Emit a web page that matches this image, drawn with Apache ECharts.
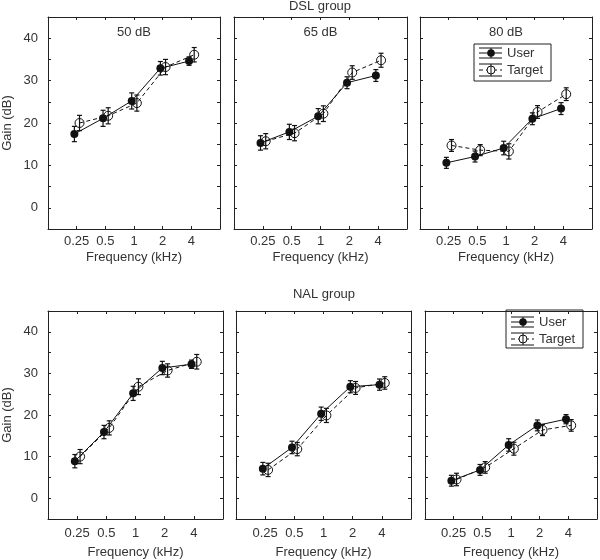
<!DOCTYPE html>
<html>
<head>
<meta charset="utf-8">
<script src="https://cdn.jsdelivr.net/npm/echarts@6/dist/echarts.min.js"></script>
<style>html,body{margin:0;padding:0;background:#fff;}#c{width:600px;height:560px;}</style>
</head>
<body>
<div id="c"></div>
<script>
// ---- data ----
const freqLabels = ['0.25', '0.5', '1', '2', '4'];
const groupTitles = ['DSL group', 'NAL group'];
const levelLabels = ['50 dB', '65 dB', '80 dB'];
const seriesNames = ['User', 'Target'];
const yTicks = [0, 10, 20, 30, 40];

// DSL group
const dsl50User   = [17.4, 21.1, 25.2, 32.9, 34.6];
const dsl50UserErr = [1.8, 1.9, 1.9, 1.6, 1.0];
const dsl50Target = [20.0, 21.7, 24.7, 33.2, 36.1];
const dsl50TargetErr = [1.8, 1.9, 1.9, 1.8, 1.7];

const dsl65User   = [15.3, 17.9, 21.6, 29.5, 31.2];
const dsl65UserErr = [1.7, 1.8, 1.8, 1.4, 1.4];
const dsl65Target = [15.7, 17.6, 22.2, 31.9, 34.8];
const dsl65TargetErr = [1.8, 1.8, 1.85, 1.6, 1.65];

const dsl80User   = [10.6, 12.1, 14.1, 21.0, 23.4];
const dsl80UserErr = [1.3, 1.3, 1.6, 1.4, 1.4];
const dsl80Target = [14.7, 13.6, 13.3, 22.6, 26.8];
const dsl80TargetErr = [1.4, 1.3, 1.8, 1.5, 1.5];

// NAL group
const nal50User   = [8.9, 15.9, 25.2, 31.3, 32.2];
const nal50UserErr = [1.6, 1.6, 1.7, 1.6, 1.0];
const nal50Target = [10.0, 16.9, 26.8, 30.7, 32.8];
const nal50TargetErr = [1.7, 1.7, 1.9, 1.6, 1.75];

const nal65User   = [7.1, 12.2, 20.3, 26.8, 27.3];
const nal65UserErr = [1.5, 1.5, 1.6, 1.45, 1.35];
const nal65Target = [6.8, 11.8, 19.9, 26.5, 27.7];
const nal65TargetErr = [1.6, 1.6, 1.7, 1.55, 1.5];

const nal80User   = [4.2, 6.8, 12.8, 17.5, 19.0];
const nal80UserErr = [1.3, 1.3, 1.5, 1.3, 1.1];
const nal80Target = [4.5, 7.4, 11.9, 16.4, 17.5];
const nal80TargetErr = [1.5, 1.4, 1.55, 1.35, 1.4];

// ---- layout ----
const panels = [
  {user: dsl50User, uErr: dsl50UserErr, target: dsl50Target, tErr: dsl50TargetErr, label: levelLabels[0], grid: {left: 48, top: 17, width: 172, height: 212}, yName: true},
  {user: dsl65User, uErr: dsl65UserErr, target: dsl65Target, tErr: dsl65TargetErr, label: levelLabels[1], grid: {left: 234, top: 17, width: 173, height: 212}},
  {user: dsl80User, uErr: dsl80UserErr, target: dsl80Target, tErr: dsl80TargetErr, label: levelLabels[2], grid: {left: 420, top: 17, width: 172, height: 212}},
  {user: nal50User, uErr: nal50UserErr, target: nal50Target, tErr: nal50TargetErr, grid: {left: 48, top: 311, width: 175, height: 208}, yName: true},
  {user: nal65User, uErr: nal65UserErr, target: nal65Target, tErr: nal65TargetErr, grid: {left: 236, top: 311, width: 175, height: 208}},
  {user: nal80User, uErr: nal80UserErr, target: nal80Target, tErr: nal80TargetErr, grid: {left: 425, top: 311, width: 173, height: 208}}
];
const U_OFF = -0.08, T_OFF = 0.1;
const INK = '#111';
const TXT = '#333';
const FONT = 'Liberation Sans, Arial, sans-serif';

const grids = [], xAxes = [], yAxes = [], series = [], graphics = [];

const lineCfg = {show: true, onZero: false, lineStyle: {color: '#222', width: 1}};
const tickCfg = {show: true, inside: true, length: 3, lineStyle: {color: '#222'}};

panels.forEach((p, i) => {
  grids.push(Object.assign({show: false}, p.grid));
  const bottomGap = i < 3 ? 6 : 8;
  const nameGap = i < 3 ? 22 : 27;
  xAxes.push({
    type: 'value', gridIndex: i, min: -1, max: 5, interval: 1, position: 'bottom',
    axisLine: lineCfg, axisTick: tickCfg,
    axisLabel: {show: true, margin: bottomGap, color: TXT, fontSize: 13, fontFamily: FONT,
      formatter: v => (freqLabels[v] !== undefined ? freqLabels[v] : '')},
    splitLine: {show: false},
    name: 'Frequency (kHz)', nameLocation: 'middle', nameGap: nameGap,
    nameTextStyle: {color: TXT, fontSize: 13, fontFamily: FONT, verticalAlign: 'top'}
  });
  yAxes.push({
    type: 'value', gridIndex: i, min: -5, max: 45, interval: 5, position: 'left',
    axisLine: lineCfg, axisTick: tickCfg,
    axisLabel: {show: !!p.yName, margin: 10, color: TXT, fontSize: 13, fontFamily: FONT,
      formatter: v => (yTicks.indexOf(v) >= 0 ? String(v) : '')},
    splitLine: {show: false},
    name: p.yName ? 'Gain (dB)' : '', nameLocation: 'middle', nameGap: 34,
    nameTextStyle: {color: TXT, fontSize: 13, fontFamily: FONT}
  });
});
panels.forEach((p, i) => {
  xAxes.push({
    type: 'value', gridIndex: i, min: -1, max: 5, interval: 1, position: 'top',
    axisLine: lineCfg, axisTick: tickCfg,
    axisLabel: {show: false}, splitLine: {show: false}
  });
  yAxes.push({
    type: 'value', gridIndex: i, min: -5, max: 45, interval: 5, position: 'right',
    axisLine: lineCfg, axisTick: tickCfg,
    axisLabel: {show: false}, splitLine: {show: false}
  });
});

function errRender(params, api) {
  const x = api.value(0), lo = api.value(1), hi = api.value(2);
  const a = api.coord([x, lo]), b = api.coord([x, hi]);
  const w = 2.5;
  const st = {stroke: INK, lineWidth: 1.2};
  return {type: 'group', children: [
    {type: 'line', shape: {x1: a[0], y1: a[1], x2: b[0], y2: b[1]}, style: st},
    {type: 'line', shape: {x1: a[0] - w, y1: a[1], x2: a[0] + w, y2: a[1]}, style: st},
    {type: 'line', shape: {x1: b[0] - w, y1: b[1], x2: b[0] + w, y2: b[1]}, style: st}
  ]};
}

panels.forEach((p, i) => {
  const tData = p.target.map((v, k) => [k + T_OFF, v]);
  const uData = p.user.map((v, k) => [k + U_OFF, v]);
  series.push({
    type: 'custom', name: seriesNames[1] + ' err', xAxisIndex: i, yAxisIndex: i,
    renderItem: errRender, encode: {x: 0, y: [1, 2]},
    data: p.target.map((v, k) => [k + T_OFF, v - p.tErr[k], v + p.tErr[k]]), z: 3
  });
  series.push({
    type: 'line', name: seriesNames[1], xAxisIndex: i, yAxisIndex: i, data: tData,
    symbol: 'circle', symbolSize: 9,
    itemStyle: {color: 'rgba(0,0,0,0)', borderColor: INK, borderWidth: 1},
    lineStyle: {color: INK, width: 1, type: [4, 3]}, z: 4
  });
  series.push({
    type: 'custom', name: seriesNames[0] + ' err', xAxisIndex: i, yAxisIndex: i,
    renderItem: errRender, encode: {x: 0, y: [1, 2]},
    data: p.user.map((v, k) => [k + U_OFF, v - p.uErr[k], v + p.uErr[k]]), z: 5
  });
  series.push({
    type: 'line', name: seriesNames[0], xAxisIndex: i, yAxisIndex: i, data: uData,
    symbol: 'circle', symbolSize: 8,
    itemStyle: {color: INK, borderColor: INK, borderWidth: 0},
    lineStyle: {color: INK, width: 1}, z: 6
  });
  if (p.label) {
    graphics.push({type: 'text', x: p.grid.left + p.grid.width / 2, y: 32, z: 10,
      style: {text: p.label, fill: TXT, font: '13px ' + FONT, textAlign: 'center', textVerticalAlign: 'middle'}});
  }
});

graphics.push({type: 'text', x: 320, y: 6, style: {text: groupTitles[0], fill: TXT, font: '13px ' + FONT, textAlign: 'center', textVerticalAlign: 'middle'}});
graphics.push({type: 'text', x: 324, y: 294, style: {text: groupTitles[1], fill: TXT, font: '13px ' + FONT, textAlign: 'center', textVerticalAlign: 'middle'}});

function legend(x0, y0, w, h, r1, r2) {
  const st = {stroke: INK, lineWidth: 1};
  const sx0 = x0 + 5, sx1 = x0 + 28, cx = x0 + 17;
  const c = [
    {type: 'rect', shape: {x: x0, y: y0, width: w, height: h}, style: {fill: '#fff', stroke: '#222', lineWidth: 1}},
  ];
  const u = y0 + r1, t = y0 + r2;
  c.push({type: 'line', shape: {x1: sx0, y1: u, x2: sx1, y2: u}, style: st});
  c.push({type: 'line', shape: {x1: sx0, y1: u - 5, x2: sx1, y2: u - 5}, style: st});
  c.push({type: 'line', shape: {x1: sx0, y1: u + 5, x2: sx1, y2: u + 5}, style: st});
  c.push({type: 'line', shape: {x1: cx, y1: u - 5, x2: cx, y2: u + 5}, style: st});
  c.push({type: 'circle', shape: {cx: cx, cy: u, r: 3.8}, style: {fill: INK}});
  c.push({type: 'text', x: x0 + 33, y: u, style: {text: seriesNames[0], fill: TXT, font: '13px ' + FONT, textVerticalAlign: 'middle'}});
  c.push({type: 'line', shape: {x1: sx0, y1: t, x2: sx1, y2: t}, style: {stroke: INK, lineWidth: 1, lineDash: [4, 3]}});
  c.push({type: 'line', shape: {x1: sx0, y1: t - 6, x2: sx1, y2: t - 6}, style: st});
  c.push({type: 'line', shape: {x1: sx0, y1: t + 6, x2: sx1, y2: t + 6}, style: st});
  c.push({type: 'line', shape: {x1: cx, y1: t - 6, x2: cx, y2: t + 6}, style: st});
  c.push({type: 'circle', shape: {cx: cx, cy: t, r: 4}, style: {fill: '#fff', stroke: INK, lineWidth: 1}});
  c.push({type: 'line', shape: {x1: cx, y1: t - 4, x2: cx, y2: t + 4}, style: st});
  c.push({type: 'text', x: x0 + 33, y: t, style: {text: seriesNames[1], fill: TXT, font: '13px ' + FONT, textVerticalAlign: 'middle'}});
  return {type: 'group', z: 20, children: c};
}
graphics.push(legend(474, 44, 77, 37, 9, 26));
graphics.push(legend(506, 310, 77, 38, 12, 29));

const chart = echarts.init(document.getElementById('c'), null, {renderer: 'canvas'});
chart.setOption({
  animation: false,
  backgroundColor: '#fff',
  grid: grids,
  xAxis: xAxes,
  yAxis: yAxes,
  series: series,
  graphic: graphics
});
</script>
</body>
</html>
